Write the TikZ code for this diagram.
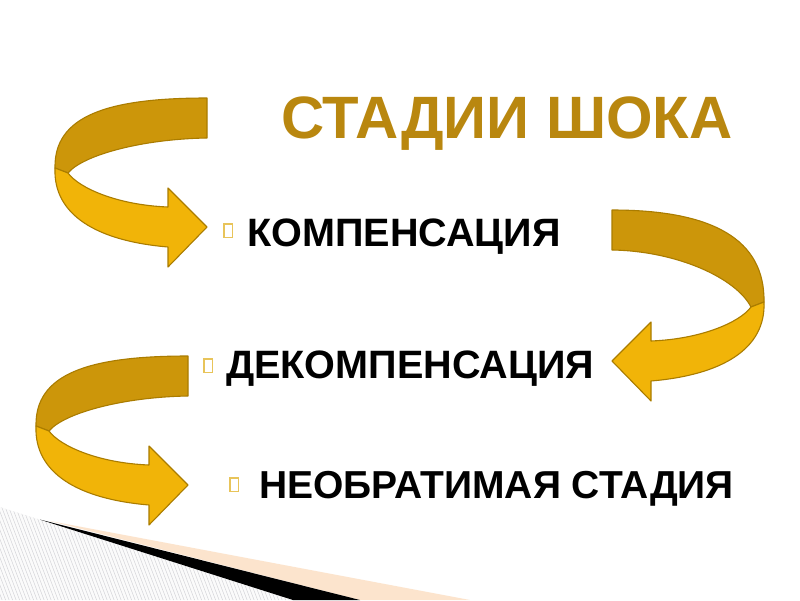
\documentclass[tikz,border=0pt]{standalone}
\usepackage{fontspec}
\setmainfont{Liberation Sans}
\definecolor{titlec}{RGB}{185,135,15}
\definecolor{frontc}{RGB}{241,180,8}
\definecolor{backc}{RGB}{204,150,10}
\definecolor{edgec}{RGB}{170,124,0}
\definecolor{peachc}{RGB}{252,228,205}
\definecolor{hatchc}{RGB}{212,212,216}
\definecolor{bulletc}{RGB}{232,196,90}
\tikzset{
  pics/ribbon/.style={code={
    \def\D{#1}
    \filldraw[fill=backc, draw=edgec, line width=1.1pt, line join=round]
      (0,0) .. controls (-100,0) and (-153,{18+0.5*\D}) .. (-152,{70+\D})
      -- (-139,{75+\D}) .. controls (-124,{57+0.5*\D}) and (-65,41) .. (0,40) -- cycle;
    \filldraw[fill=frontc, draw=edgec, line width=1.1pt, line join=round]
      (-152,{70+\D}) .. controls (-154,{117+\D}) and (-110,{143+\D}) .. (-39,{149+\D})
      -- (-39,{169+\D}) -- (0,{129+\D}) -- (-39,{90+\D}) -- (-39,{109+\D})
      .. controls (-90,{107+\D}) and (-128,{90+\D}) .. (-139,{75+\D}) -- cycle;
  }},
  itemtext/.style={anchor=base west, inner sep=0pt, font=\fontsize{39.6}{42}\selectfont\bfseries, text=black},
  bulletbox/.style={draw=bulletc, line width=1.8pt, minimum width=8.5pt, minimum height=13.5pt, inner sep=0pt, anchor=north west}
}
\begin{document}
\begin{tikzpicture}[x=1pt,y=-1pt]
\useasboundingbox (0,0) rectangle (800,600);
\fill[white] (0,0) rectangle (800,600);
% bottom decoration
\fill[peachc] (50,521) -- (470,600) -- (360,600) -- cycle;
\begin{scope}
  \clip (0,507) -- (293,600) -- (0,600) -- cycle;
  \fill[white!97!gray] (0,507) -- (293,600) -- (0,600) -- cycle;
  \foreach \i in {-120,-116.5,...,320} \draw[hatchc, line width=0.5pt] (\i,500) -- ++(40,105);
\end{scope}
\fill[black] (40,519.6) -- (360,600) -- (293,600) -- cycle;
% arrows
\pic at (207,98) {ribbon=0};
\pic[xscale=-1] at (612,210) {ribbon=22};
\pic at (188,356) {ribbon=0};
% title
\node[anchor=base west, inner sep=0pt, font=\fontsize{59.8}{62}\selectfont\bfseries, text=titlec] (title) at (281,138) {СТАДИИ ШОКА};
% items
\node[bulletbox] (b1) at (223,223) {};
\node[itemtext] (t1) at (247,246) {КОМПЕНСАЦИЯ};
\node[bulletbox] (b2) at (203,358) {};
\node[itemtext] (t2) at (226,378) {ДЕКОМПЕНСАЦИЯ};
\node[bulletbox] (b3) at (229,477) {};
\node[itemtext, font=\fontsize{39}{42}\selectfont\bfseries] (t3) at (259,498) {НЕОБРАТИМАЯ СТАДИЯ};
\end{tikzpicture}
\end{document}
